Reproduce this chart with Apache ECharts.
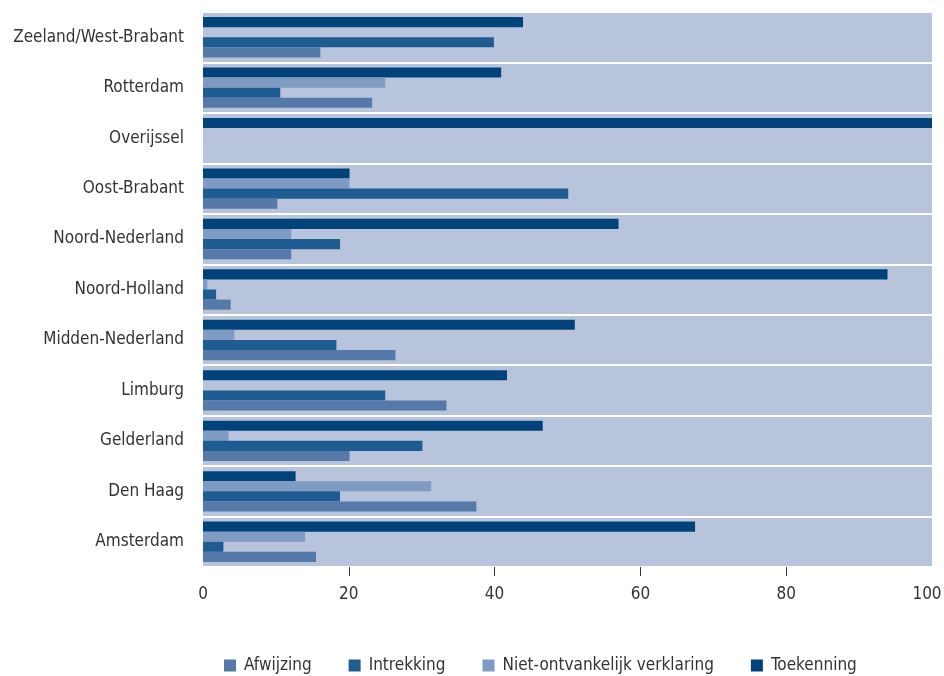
<!DOCTYPE html>
<html><head><meta charset="utf-8">
<script src="https://cdn.jsdelivr.net/npm/echarts@6/dist/echarts.min.js"></script>
<style>html,body{margin:0;padding:0;background:#fff}#c{width:944px;height:676px}</style>
</head><body><div id="c"></div>
<script>
const categories = ["Amsterdam","Den Haag","Gelderland","Limburg","Midden-Nederland","Noord-Holland","Noord-Nederland","Oost-Brabant","Overijssel","Rotterdam","Zeeland/West-Brabant"];
const afwijzing = [15.5, 37.5, 20.1, 33.4, 26.4, 3.8, 12.1, 10.2, 0, 23.2, 16.1];
const intrekking = [2.8, 18.8, 30.1, 25.0, 18.3, 1.8, 18.8, 50.1, 0, 10.6, 39.9];
const nietOntvankelijk = [14.0, 31.3, 3.5, 0, 4.3, 0.6, 12.1, 20.1, 0, 25.0, 0];
const toekenning = [67.5, 12.7, 46.6, 41.7, 51.0, 93.9, 57.0, 20.1, 100, 40.9, 43.9];
const xTicks = [0, 20, 40, 60, 80, 100];
const xInnerTicks = [20, 40, 60, 80];

const seriesNames = ["Afwijzing","Intrekking","Niet-ontvankelijk verklaring","Toekenning"];
const seriesData = [afwijzing, intrekking, nietOntvankelijk, toekenning];
const colors = ["#5579a8","#1f5c91","#809bc2","#00437b"];
const font = "'DejaVu Sans Condensed', 'DejaVu Sans', sans-serif";

// draw order reversed so that Toekenning sits at top of each group
const order = [3, 2, 1, 0];
const xMax = xTicks[xTicks.length-1];

const chart = echarts.init(document.getElementById('c'));
chart.setOption({
  animation:false,
  textStyle:{fontFamily:font},
  grid:{left:203, right:12, top:12, bottom:109, show:true, backgroundColor:'#b7c4dc', borderWidth:0, outerBoundsMode:'none', containLabel:false},
  legend:{
    bottom:-3, left:219, itemWidth:12, itemHeight:12, itemGap:37, icon:'rect',
    textStyle:{fontFamily:font, fontSize:17, color:'#333', padding:[0,0,0,3]},
    data:seriesNames
  },
  xAxis:{
    type:'value', min:xTicks[0], max:xMax, interval:20,
    axisLine:{show:false},
    axisTick:{show:true, length:9, customValues:xInnerTicks, lineStyle:{color:'#333'}},
    splitLine:{show:false},
    axisLabel:{fontFamily:font, fontSize:17, color:'#333', margin:19, customValues:xTicks,
      formatter: v => v === xMax ? '{m|' + v + '}' : String(v),
      rich:{m:{fontFamily:font, fontSize:17, color:'#333', padding:[0,10,0,0]}}
    }
  },
  yAxis:{
    type:'category', data:categories,
    axisLine:{show:false}, axisTick:{show:false},
    splitLine:{show:true, lineStyle:{color:'#ffffff', width:2}},
    axisLabel:{fontFamily:font, fontSize:17, color:'#333', margin:19}
  },
  series: order.map(i=>({
    name:seriesNames[i], type:'bar', data:seriesData[i],
    barGap:'0%', barCategoryGap:'20%',
    itemStyle:{color:colors[i]}
  }))
});
</script></body></html>
